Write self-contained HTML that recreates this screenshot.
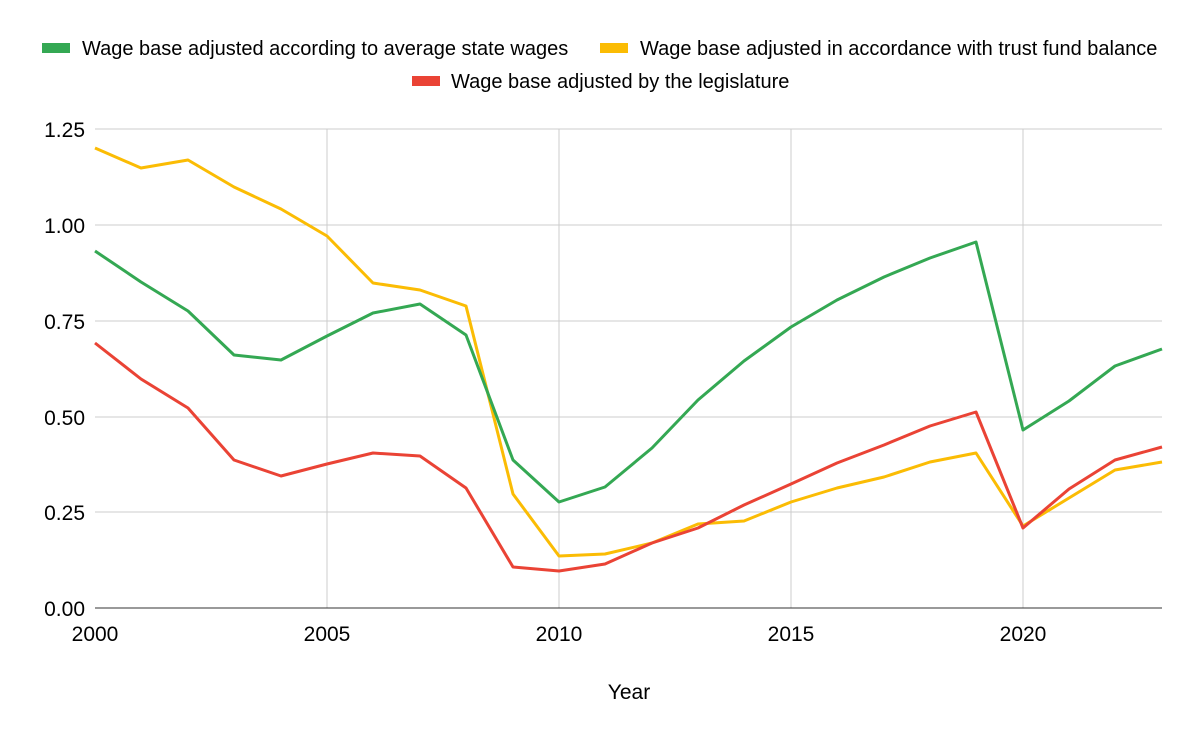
<!DOCTYPE html>
<html><head><style>body{margin:0;background:#fff}</style></head><body>
<svg width="1200" height="742" xmlns="http://www.w3.org/2000/svg" font-family="Liberation Sans, Arial, sans-serif">
<rect width="1200" height="742" fill="#fff"/>
<g stroke="#ccc" stroke-width="1">
<line x1="95" y1="129" x2="1162" y2="129"/><line x1="95" y1="225" x2="1162" y2="225"/>
<line x1="95" y1="321" x2="1162" y2="321"/><line x1="95" y1="417" x2="1162" y2="417"/>
<line x1="95" y1="512" x2="1162" y2="512"/>
<line x1="327" y1="129" x2="327" y2="608"/><line x1="559" y1="129" x2="559" y2="608"/>
<line x1="791" y1="129" x2="791" y2="608"/><line x1="1023" y1="129" x2="1023" y2="608"/>
</g>
<line x1="95" y1="608" x2="1162" y2="608" stroke="#333" stroke-width="1"/>
<g font-size="21" fill="#000" text-anchor="end">
<text x="85" y="137">1.25</text><text x="85" y="233">1.00</text><text x="85" y="329">0.75</text>
<text x="85" y="425">0.50</text><text x="85" y="520">0.25</text><text x="85" y="616">0.00</text>
</g>
<g font-size="21" fill="#000" text-anchor="middle">
<text x="95" y="641">2000</text><text x="327" y="641">2005</text><text x="559" y="641">2010</text>
<text x="791" y="641">2015</text><text x="1023" y="641">2020</text>
<text x="629" y="699">Year</text>
</g>
<g fill="none" stroke-width="3" stroke-linejoin="round">
<polyline stroke="#fbbc04" points="95,148 141,168 188,160 234,187 281,209 327,236 373,283 420,290 466,306 513,494 559,556 605,554 652,543 698,524 744,521 791,502 837,488 884,477 930,462 976,453 1023,526 1069,498 1115,470 1162,462"/>
<polyline stroke="#34a853" points="95,251 141,282 188,311 234,355 281,360 327,336 373,313 420,304 466,335 513,460 559,502 605,487 652,448 698,400 744,361 791,327 837,300 884,277 930,258 976,242 1023,430 1069,401 1115,366 1162,349"/>
<polyline stroke="#ea4335" points="95,343 141,379 188,408 234,460 281,476 327,464 373,453 420,456 466,488 513,567 559,571 605,564 652,543 698,528 744,505 791,484 837,463 884,445 930,426 976,412 1023,528 1069,489 1115,460 1162,447"/>
</g>
<g font-size="20" fill="#000">
<rect x="42" y="43" width="28" height="10" fill="#34a853"/><text x="82" y="55">Wage base adjusted according to average state wages</text>
<rect x="600" y="43" width="28" height="10" fill="#fbbc04"/><text x="640" y="55">Wage base adjusted in accordance with trust fund balance</text>
<rect x="412" y="76" width="28" height="10" fill="#ea4335"/><text x="451" y="88">Wage base adjusted by the legislature</text>
</g>
</svg>
</body></html>
